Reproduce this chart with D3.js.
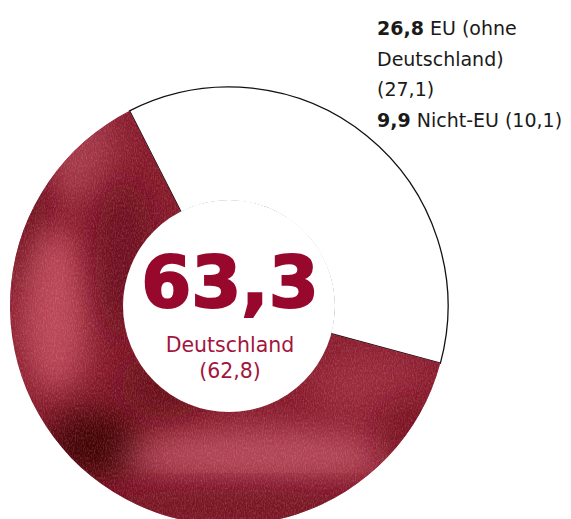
<!DOCTYPE html>
<meta charset="utf-8">
<script src="https://d3js.org/d3.v7.min.js"></script>
<style>
  body { margin: 0; background: #fff; }
  text { font-family: "DejaVu Sans", sans-serif; }
</style>
<div id="chart"></div>
<script>
// data: share in percent, previous year in brackets
var categories = ["EU (ohne Deutschland)", "Nicht-EU", "Deutschland"];
var values = [26.8, 9.9, 63.3];
var previous = [27.1, 10.1, 62.8];

var width = 571, height = 519;
var cx = 229, cy = 306, outerR = 219, innerR = 105;

var svg = d3.select("#chart").append("svg")
    .attr("width", width)
    .attr("height", height);

var data = categories.map(function(c, i) {
  return {name: c, value: values[i], prev: previous[i]};
});

var startAngle = -27 * Math.PI / 180;
var pie = d3.pie()
    .sort(null)
    .value(function(d) { return d.value; })
    .startAngle(startAngle)
    .endAngle(startAngle + 2 * Math.PI);
var arcs = pie(data);

var arc = d3.arc().innerRadius(innerR).outerRadius(outerR);

var defs = svg.append("defs");

// clip for the textured Deutschland slice
defs.append("clipPath").attr("id", "deClip")
  .append("path")
    .attr("transform", "translate(" + cx + "," + cy + ")")
    .attr("d", arc(arcs[2]));

defs.append("filter").attr("id", "blur").attr("x", "-50%").attr("y", "-50%")
    .attr("width", "200%").attr("height", "200%")
  .append("feGaussianBlur").attr("stdDeviation", 16);

var noise = defs.append("filter").attr("id", "noise");
noise.append("feTurbulence")
    .attr("type", "fractalNoise")
    .attr("baseFrequency", "0.9 0.4")
    .attr("numOctaves", 2)
    .attr("seed", 4);
noise.append("feColorMatrix")
    .attr("type", "matrix")
    .attr("values", "0 0 0 0 1  0 0 0 0 0.7  0 0 0 0 0.75  0 0 0 1.3 -0.5");

// white slices (EU + Nicht-EU) with outline
var g = svg.append("g").attr("transform", "translate(" + cx + "," + cy + ")");
g.selectAll("path.white")
  .data(arcs.slice(0, 2))
  .join("path")
    .attr("class", "white")
    .attr("d", arc)
    .attr("fill", "#fff");

var outline = d3.arc().innerRadius(innerR).outerRadius(outerR)
    .startAngle(arcs[0].startAngle).endAngle(arcs[1].endAngle);
g.append("path")
    .attr("d", outline())
    .attr("fill", "none")
    .attr("stroke", "#111")
    .attr("stroke-width", 1.3);

// textured red slice
var tex = svg.append("g").attr("clip-path", "url(#deClip)");
tex.append("circle")
    .attr("cx", cx).attr("cy", cy).attr("r", outerR + 2)
    .attr("fill", "#861a2b");

var blobs = [
  {x: 75, y: 150, rx: 40, ry: 55, c: "#a63a4b", o: 0.9},
  {x: 25, y: 230, rx: 22, ry: 70, c: "#6a0c1a", o: 0.85},
  {x: 55, y: 310, rx: 35, ry: 85, c: "#c4505f", o: 0.85},
  {x: 125, y: 260, rx: 30, ry: 80, c: "#6a0c1a", o: 0.9},
  {x: 95, y: 445, rx: 50, ry: 35, c: "#3a0006", o: 0.9},
  {x: 165, y: 385, rx: 45, ry: 35, c: "#650916", o: 0.9},
  {x: 270, y: 455, rx: 150, ry: 26, c: "#c4586a", o: 0.75},
  {x: 230, y: 505, rx: 170, ry: 16, c: "#6d0c1d", o: 0.8},
  {x: 370, y: 385, rx: 60, ry: 35, c: "#9e2d3f", o: 0.8},
  {x: 410, y: 440, rx: 35, ry: 45, c: "#75101f", o: 0.8}
];
tex.selectAll("ellipse")
  .data(blobs)
  .join("ellipse")
    .attr("cx", function(d) { return d.x; })
    .attr("cy", function(d) { return d.y; })
    .attr("rx", function(d) { return d.rx; })
    .attr("ry", function(d) { return d.ry; })
    .attr("fill", function(d) { return d.c; })
    .attr("opacity", function(d) { return d.o; })
    .attr("filter", "url(#blur)");

tex.append("rect")
    .attr("x", 0).attr("y", 0).attr("width", width).attr("height", height)
    .attr("filter", "url(#noise)")
    .attr("opacity", 0.3);

// white centre hides the inner edge of the outline
svg.append("circle")
    .attr("cx", cx).attr("cy", cy).attr("r", innerR + 1)
    .attr("fill", "#fff");

// centre labels
var fmt = function(v) { return d3.format(".1f")(v).replace(".", ","); };
var de = data[2];
svg.append("text")
    .attr("x", cx + 1).attr("y", 307)
    .attr("text-anchor", "middle")
    .style("font-size", "72px")
    .style("font-weight", 700)
    .style("fill", "#98082d")
    .style("stroke", "#98082d")
    .style("stroke-width", 2)
    .text(fmt(de.value));
svg.append("text")
    .attr("x", cx + 1).attr("y", 352)
    .attr("text-anchor", "middle")
    .style("font-size", "20.5px")
    .style("fill", "#a3153d")
    .text(de.name);
svg.append("text")
    .attr("x", cx + 1).attr("y", 378)
    .attr("text-anchor", "middle")
    .style("font-size", "20.5px")
    .style("fill", "#a3153d")
    .text("(" + fmt(de.prev) + ")");

// legend for the white slices
var legendLines = [
  [{t: fmt(data[0].value), b: true}, {t: " EU (ohne"}],
  [{t: "Deutschland)"}],
  [{t: "(" + fmt(data[0].prev) + ")"}],
  [{t: fmt(data[1].value), b: true}, {t: " " + data[1].name + " (" + fmt(data[1].prev) + ")"}]
];
var legend = svg.append("text")
    .attr("x", 377)
    .style("font-size", "19px")
    .style("fill", "#1a1a1a");
legendLines.forEach(function(line, i) {
  line.forEach(function(part, j) {
    var ts = legend.append("tspan").text(part.t);
    if (j === 0) ts.attr("x", 377).attr("y", 35 + i * 30.7);
    if (part.b) ts.style("font-weight", 700);
  });
});
</script>
